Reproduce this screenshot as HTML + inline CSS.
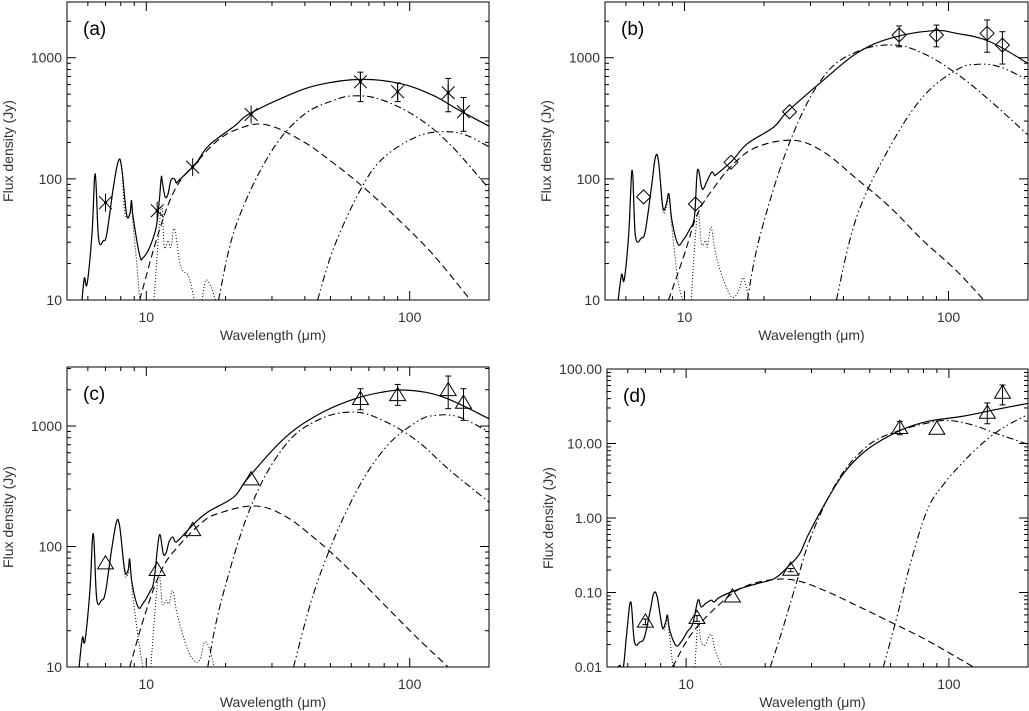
<!DOCTYPE html>
<html><head><meta charset="utf-8">
<style>
html,body{margin:0;padding:0;background:#fff;}
svg{display:block;font-family:"Liberation Sans",sans-serif;}
</style></head>
<body>
<svg id="fig" width="1029" height="711" viewBox="0 0 1029 711" xmlns="http://www.w3.org/2000/svg"></svg>
<script>
// ---------- Panel (a) data ----------
const aSolidX=[5.7,5.82,5.96,6.22,6.4,6.59,6.88,7.08,7.5,7.83,8.06,8.41,8.66,8.79,8.91,9.44,9.72,10.3,10.9,11.2,11.4,11.5,11.8,12.1,12.4,12.8,13.0,13.3,15.4,17.3,21.8,24.4,33.5,44.7,64.9,91.7,122,154,200];
const aSolidY=[10,15.2,13.6,35.2,110,32,31,35.2,85.6,140,125,51.5,51.5,66.3,48.3,23.3,22.3,27.3,39.9,66.3,103,94.2,70.8,75.4,97.3,100,92.5,97.3,134,189,277,340,475,594,662,614,491,369,272];
const aDotX=[5.7,5.82,5.96,6.22,6.4,6.59,6.88,7.08,7.5,7.83,8.06,8.3,8.66,8.79,8.91,9.2,9.44];
const aDotY=[10,15.2,13.6,35,110,32,31,35,85,140,125,52,50,60,42,20,10];
const aDot2X=[10.7,11.4,11.7,12.1,12.4,12.8,13.5,14.5,15.2];
const aDot2Y=[10,58,27.3,31,27.3,38.6,19,15.5,10];
const aDot3X=[16.3,16.8,17.6,18.3];
const aDot3Y=[10,14.5,12.8,10];
const aWarmX=[9.44,11.2,13.0,15.4,18.3,22,28.2,38.7,51.6,68.8,91.7,122,167];
const aWarmY=[10,37.5,85.6,134,200,255,281,208,134,80.5,45,24,10.5];
const aCoolX=[18.8,21.8,29,38.7,51.6,63,79,106,141,200];
const aCoolY=[10,39.9,152,325,446,485,446,325,196,83];
const aColdX=[44.7,51.6,64.9,79,106,134,163,200];
const aColdY=[10,27.3,80.5,147,222,245,230,184];
const aObsX=[7,11,15,25,65,90,140,160];
const aObsY=[63.6,54.6,125,340,633,524,514,358];
const aObsLo=[63.6,54.6,125,340,434,434,358,247];
const aObsHi=[63.6,54.6,125,340,760,620,675,470];

// ---------- Panel (b) data ----------
const bSolidX=[5.61,5.78,5.91,6.15,6.34,6.52,6.87,7.11,7.5,7.76,7.98,8.28,8.53,8.73,8.96,9.44,9.86,10.4,10.9,11.2,11.6,11.8,12.2,12.7,13.0,13.3,15.2,17.3,21.8,24.5,33.6,44.9,60,87.3,107,143,200];
const bSolidY=[10,16.2,14.7,35,118,33.8,32.5,37.5,86,151,138,58.5,62,75,45.5,29,31,37.5,48.5,118,86,83,97,114,107,110,142,195,268,358,653,1087,1445,1670,1590,1360,897];
const bDotX=[5.61,5.78,5.91,6.15,6.34,6.52,6.87,7.11,7.5,7.76,7.98,8.28,8.53,8.73,8.96,9.44,9.86];
const bDotY=[10,16.2,14.7,35,118,33.8,32.5,37.5,86,151,138,55,58,70,40,14.6,10];
const bDot2X=[10.6,11.2,11.6,12.0,12.2,12.6,13.0,13.5,14.4,15.2,16.0,16.6,17.0,17.6];
const bDot2Y=[10,51.5,29,31,27.5,40,27,19,12.8,10.5,11.8,15.2,13.6,10];
const bWarmX=[8.7,10,11.2,13,15.4,18.9,25.9,33.6,44.9,60,80,107,136];
const bWarmY=[10,24,51.5,86,134,184,208,167,100,58.5,31,17.5,10];
const bCoolX=[17.3,19.4,25.2,33.6,44.9,61.6,80,107,143,200];
const bCoolY=[10,35,208,696,1120,1273,1087,742,446,230];
const bColdX=[37.6,44.9,60,80,107,127,156,200];
const bColdY=[10,48.5,184,475,791,881,842,654];
const bObsX=[7,11,15,25,65,90,140,160];
const bObsY=[71,62,137,358,1540,1540,1590,1270];
const bObsLo=[71,62,137,358,1230,1230,1110,887];
const bObsHi=[71,62,137,358,1830,1860,2050,1640];

// ---------- Panel (c) data ----------
const cSolidX=[5.56,5.72,5.85,6.11,6.29,6.48,6.76,7.0,7.38,7.71,7.93,8.28,8.53,8.65,8.83,9.31,9.71,10.3,10.7,11.2,11.6,11.9,12.2,12.6,12.9,13.4,15.2,17.1,21.5,24.2,33.3,44.4,59.4,79.3,100,134,200];
const cSolidY=[10,17.5,16.5,43,128,37,35.8,41.9,93,160,145,63.5,63.5,78.5,49.5,31.5,33.6,41.9,52.5,124,87,89,109,120,109,116,155,193,258,365,785,1225,1633,1915,1975,1740,1150];
const cDotX=[5.56,5.72,5.85,6.11,6.29,6.48,6.76,7.0,7.38,7.71,7.93,8.28,8.53,8.65,8.9,9.3,9.7];
const cDotY=[10,17.5,16.5,43,128,37,35.8,41.9,93,160,145,60,60,72,38,18,10];
const cDot2X=[10.4,11.1,11.5,11.9,12.2,12.6,13.0,13.5,14.4,15.4,16.1,16.6,17.3,18.1];
const cDot2Y=[10,56,33.6,35.8,33.6,43,29.7,21.5,13.7,11,12,16,14.6,10];
const cWarmX=[8.65,9.9,11.4,13.2,16.1,18.6,25.6,33.3,44.4,59.4,79.3,106,140];
const cWarmY=[10,27.5,63.5,100,155,187,217,181,113,63.5,33.6,17.7,10];
const cCoolX=[17.1,19.3,24.9,33.3,44.4,60.8,79.3,106,142,200];
const cCoolY=[10,36,213,670,1110,1307,1110,760,430,234];
const cColdX=[36.2,44.4,59.4,79.3,106,126,154,200];
const cColdY=[10,49,227,628,1080,1226,1187,892];
const cObsX=[7,11,15,25,65,90,140,160];
const cObsY=[72,63.5,136,359,1665,1795,1975,1550];
const cObsLo=[72,63.5,136,359,1366,1485,1393,1115];
const cObsHi=[72,63.5,136,359,2040,2215,2600,2040];

// ---------- Panel (d) data ----------
const dSolidX=[5.51,5.59,5.77,5.94,6.16,6.36,6.68,6.95,7.31,7.53,7.76,8.12,8.36,8.49,8.67,9.14,9.57,10.1,10.6,11.1,11.4,11.8,12.1,12.5,12.8,13.5,16.1,18.7,21.7,24.4,27,29.2,33.9,39.4,45.7,53,66.2,82.8,112,150,212];
const dSolidY=[0.01,0.0105,0.01,0.028,0.0748,0.0217,0.0217,0.0254,0.0578,0.097,0.0875,0.0345,0.0403,0.0495,0.0311,0.0195,0.0217,0.0296,0.0383,0.0789,0.0641,0.07,0.0748,0.0789,0.0748,0.0875,0.113,0.132,0.154,0.221,0.33,0.6,1.6,3.8,6.8,10.1,15.3,19.8,23.1,28.4,36];
const dDotX=[5.51,5.59,5.77,5.94,6.16,6.36,6.68,6.95,7.31,7.53,7.76,8.12,8.36,8.49,8.67,8.9];
const dDotY=[0.01,0.0105,0.01,0.028,0.0748,0.0217,0.0217,0.0254,0.0578,0.097,0.0875,0.033,0.036,0.045,0.025,0.01];
const dDot2X=[10.8,11.1,11.4,11.8,12.1,12.5,12.9,13.7];
const dDot2Y=[0.01,0.0383,0.0217,0.0195,0.024,0.0271,0.0167,0.01];
const dWarmX=[8.9,10,11.3,13.5,16.1,20.4,26,33.9,45.7,61.6,82.8,124];
const dWarmY=[0.01,0.0217,0.0383,0.0711,0.113,0.146,0.146,0.105,0.064,0.0383,0.0227,0.01];
const dCoolX=[20.9,23.0,26,29.2,33.9,39.4,45.7,53,66.2,82.8,99,122,150,212];
const dCoolY=[0.01,0.028,0.118,0.456,1.57,4.0,7.4,11.2,15.3,18.8,20.4,17.9,13.8,9.1];
const dColdX=[56.3,63.4,71.4,82.8,96,112,130,150,174,212];
const dColdY=[0.01,0.0469,0.245,1.29,2.9,5.4,9.1,13.8,19.1,27];
const dObsX=[7,11,15,25,65,90,140,160];
const dObsY=[0.0403,0.045,0.0875,0.2,16,15.6,25.6,47.6];
const dObsLo=[0.037,0.041,0.0875,0.19,13.1,15.6,18.4,33];
const dObsHi=[0.044,0.049,0.0875,0.21,19.8,15.6,35,61];

// tick labels
const yTicksABC=[10,100,1000];
const yTickLabelsABC=["10","100","1000"];
const yTicksD=[0.01,0.1,1,10,100];
const yTickLabelsD=["0.01","0.10","1.00","10.00","100.00"];
const xTicks=[10,100];
const xTickLabels=["10","100"];

const NS="http://www.w3.org/2000/svg";
const svg=document.getElementById('fig');
function mk(tag,attrs,parent){const e=document.createElementNS(NS,tag);for(const k in attrs)e.setAttribute(k,attrs[k]);(parent||svg).appendChild(e);return e;}

function smoothPath(pts){
  let d='M'+pts[0][0].toFixed(1)+' '+pts[0][1].toFixed(1);
  for(let i=0;i<pts.length-1;i++){
    const p0=pts[Math.max(0,i-1)],p1=pts[i],p2=pts[i+1],p3=pts[Math.min(pts.length-1,i+2)];
    const t=0.18;
    const c1=[p1[0]+(p2[0]-p0[0])*t,p1[1]+(p2[1]-p0[1])*t];
    const c2=[p2[0]-(p3[0]-p1[0])*t,p2[1]-(p3[1]-p1[1])*t];
    d+=' C'+c1[0].toFixed(1)+' '+c1[1].toFixed(1)+' '+c2[0].toFixed(1)+' '+c2[1].toFixed(1)+' '+p2[0].toFixed(1)+' '+p2[1].toFixed(1);
  }
  return d;
}

function panel(cfg){
  const g=mk('g',{});
  
  
  const lx0=Math.log10(5),lx1=Math.log10(200);
  const X=v=>cfg.x0+(Math.log10(v)-lx0)/(lx1-lx0)*(cfg.x1-cfg.x0);
  const Y=v=>cfg.y1-(Math.log10(v)-cfg.ly0)/(cfg.ly1-cfg.ly0)*(cfg.y1-cfg.y0);
  const clip='clip-'+cfg.id;
  const cp=mk('clipPath',{id:clip},g);
  mk('rect',{x:cfg.x0,y:cfg.y0,width:cfg.x1-cfg.x0,height:cfg.y1-cfg.y0},cp);
  const fr=mk('rect',{x:cfg.x0,y:cfg.y0,width:cfg.x1-cfg.x0,height:cfg.y1-cfg.y0,fill:'none',stroke:'#000','stroke-width':1},g);
  
  
  const xt=[];
  for(let p=0;p<=2;p++)for(let m=1;m<=9;m++){const v=m*Math.pow(10,p);if(v>=5&&v<=200)xt.push(v);}
  xt.forEach(v=>{const x=X(v);const maj=(v===10||v===100);const L=maj?9:4;
    mk('line',{x1:x,x2:x,y1:cfg.y1,y2:cfg.y1-L,stroke:'#000','stroke-width':1},g);
    mk('line',{x1:x,x2:x,y1:cfg.y0,y2:cfg.y0+L,stroke:'#000','stroke-width':1},g);});
  xTicks.forEach((v,i)=>{const t=mk('text',{x:X(v),y:cfg.y1+22,'font-size':14,'text-anchor':'middle',fill:'#333'},g);t.textContent=xTickLabels[i];
    
    });
  for(let p=Math.floor(cfg.ly0);p<=Math.ceil(cfg.ly1);p++)for(let m=1;m<=9;m++){
    const v=m*Math.pow(10,p);const lv=Math.log10(v);if(lv<cfg.ly0-1e-9||lv>cfg.ly1+1e-9)continue;
    const y=Y(v);const L=m===1?9:4;
    mk('line',{x1:cfg.x0,x2:cfg.x0+L,y1:y,y2:y,stroke:'#000','stroke-width':1},g);
    mk('line',{x1:cfg.x1,x2:cfg.x1-L,y1:y,y2:y,stroke:'#000','stroke-width':1},g);}
  cfg.yt.forEach((v,i)=>{const t=mk('text',{x:cfg.x0-5,y:Y(v)+5,'font-size':14,'text-anchor':'end',fill:'#333'},g);t.textContent=cfg.ytl[i];
    
    });
  const xtT=mk('text',{x:(cfg.x0+cfg.x1)/2-5,y:cfg.y1+40,'font-size':14,'text-anchor':'middle',fill:'#333'},g);
  xtT.textContent='Wavelength (μm)';
  
  
  const cy=(cfg.y0+cfg.y1)/2;
  const tx=cfg.x0-54;
  const ytT=mk('text',{x:tx,y:cy,'font-size':14,'text-anchor':'middle',fill:'#333',transform:'rotate(-90 '+tx+' '+cy+')'},g);
  ytT.textContent='Flux density (Jy)';
  
  
  const pl=mk('text',{x:cfg.x0+16,y:cfg.y0+33,'font-size':19,fill:'#000'},g);
  pl.textContent='('+cfg.id+')';
  
  
  const cg=mk('g',{'clip-path':'url(#'+clip+')'},g);
  function curve(xs,ys,dash,name,w){
    const pts=xs.map((x,i)=>[X(x),Y(ys[i])]);
    const p=mk('path',{d:smoothPath(pts),fill:'none',stroke:'#000','stroke-width':w||1.1,'stroke-dasharray':dash||'none','stroke-linejoin':'round'},cg);
    
    
  }
  cfg.dots.forEach(s=>curve(s[0],s[1],'1,2','pah-dotted-curve',1));
  curve(cfg.warm[0],cfg.warm[1],'7,4','warm-dust-dashed-curve');
  curve(cfg.cool[0],cfg.cool[1],'7,3,1.5,3','cool-dust-dashdot-curve');
  curve(cfg.cold[0],cfg.cold[1],'7,3,1.5,3,1.5,3','cold-dust-dashdotdot-curve');
  curve(cfg.solid[0],cfg.solid[1],null,'total-model-curve',1.2);
  const o=cfg.obs;
  o[0].forEach((lam,i)=>{
    const x=X(lam),y=Y(o[1][i]);
    const mg=mk('g',{},g);
    
    
    const yl=Y(o[2][i]),yh=Y(o[3][i]);
    if(Math.abs(yl-yh)>1){
      mk('line',{x1:x,x2:x,y1:yl,y2:yh,stroke:'#000','stroke-width':1},mg);
      mk('line',{x1:x-3,x2:x+3,y1:yl,y2:yl,stroke:'#000','stroke-width':1},mg);
      mk('line',{x1:x-3,x2:x+3,y1:yh,y2:yh,stroke:'#000','stroke-width':1},mg);
    }
    const r=cfg.mr;
    if(cfg.marker==='star'){
      [[0,1],[0.71,0.71],[0.71,-0.71]].forEach(v=>mk('line',{x1:x-v[0]*r,x2:x+v[0]*r,y1:y-v[1]*r,y2:y+v[1]*r,stroke:'#000','stroke-width':1},mg));
      mk('circle',{cx:x,cy:y,r:1.5,fill:'#000'},mg);
    }else if(cfg.marker==='diamond'){
      mk('polygon',{points:`${x},${y-r} ${x+r},${y} ${x},${y+r} ${x-r},${y}`,fill:'none',stroke:'#000','stroke-width':1},mg);
    }else{
      mk('polygon',{points:`${x},${y-r} ${x+r},${y+r*0.65} ${x-r},${y+r*0.65}`,fill:'none',stroke:'#000','stroke-width':1},mg);
    }
  });
}

panel({id:'a',x0:67,x1:489,y0:2,y1:300,ly0:1,ly1:3.46,yt:yTicksABC,ytl:yTickLabelsABC,
  solid:[aSolidX,aSolidY],dots:[[aDotX,aDotY],[aDot2X,aDot2Y],[aDot3X,aDot3Y]],warm:[aWarmX,aWarmY],cool:[aCoolX,aCoolY],cold:[aColdX,aColdY],
  obs:[aObsX,aObsY,aObsLo,aObsHi],marker:'star',mr:9});
panel({id:'b',x0:605,x1:1028,y0:2,y1:300,ly0:1,ly1:3.46,yt:yTicksABC,ytl:yTickLabelsABC,
  solid:[bSolidX,bSolidY],dots:[[bDotX,bDotY],[bDot2X,bDot2Y]],warm:[bWarmX,bWarmY],cool:[bCoolX,bCoolY],cold:[bColdX,bColdY],
  obs:[bObsX,bObsY,bObsLo,bObsHi],marker:'diamond',mr:7});
panel({id:'c',x0:67,x1:489,y0:367,y1:667,ly0:1,ly1:3.49,yt:yTicksABC,ytl:yTickLabelsABC,
  solid:[cSolidX,cSolidY],dots:[[cDotX,cDotY],[cDot2X,cDot2Y]],warm:[cWarmX,cWarmY],cool:[cCoolX,cCoolY],cold:[cColdX,cColdY],
  obs:[cObsX,cObsY,cObsLo,cObsHi],marker:'tri',mr:8});
panel({id:'d',x0:607,x1:1028,y0:369,y1:667,ly0:-2,ly1:2,yt:yTicksD,ytl:yTickLabelsD,
  solid:[dSolidX,dSolidY],dots:[[dDotX,dDotY],[dDot2X,dDot2Y]],warm:[dWarmX,dWarmY],cool:[dCoolX,dCoolY],cold:[dColdX,dColdY],
  obs:[dObsX,dObsY,dObsLo,dObsHi],marker:'tri',mr:8});
</script>
</body></html>
